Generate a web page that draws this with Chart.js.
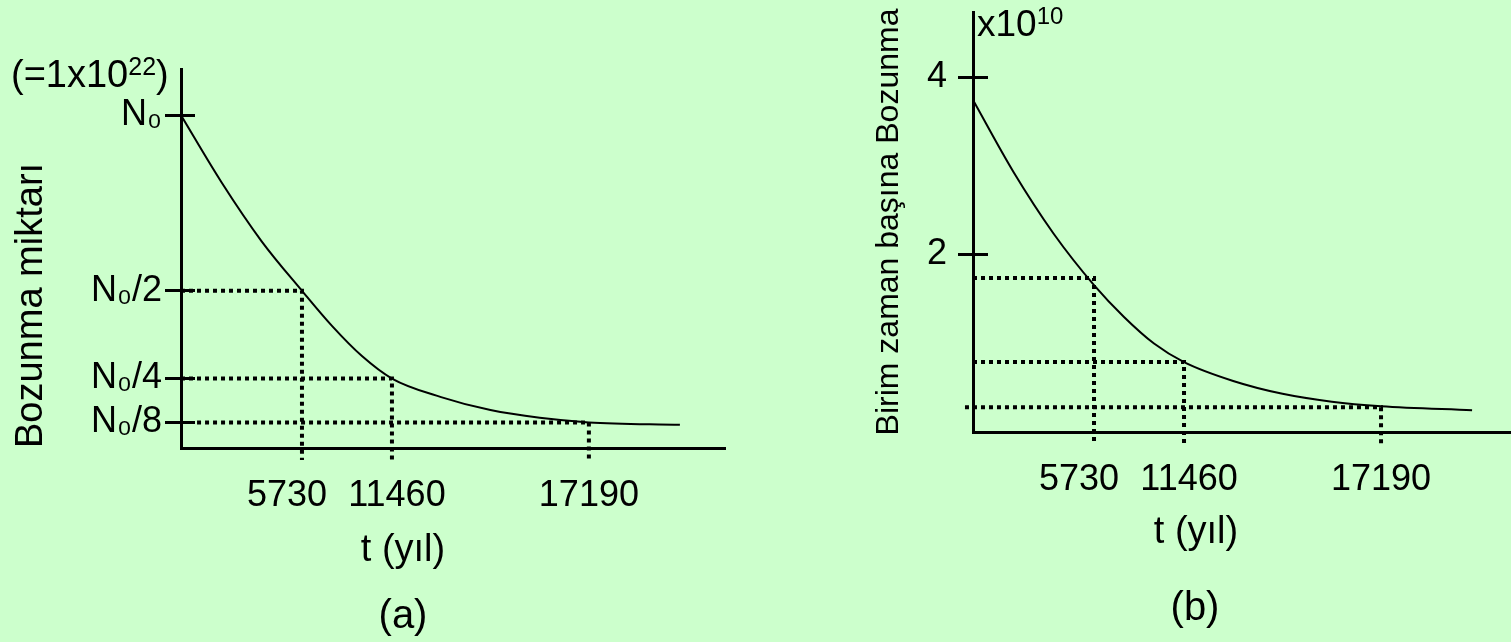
<!DOCTYPE html>
<html>
<head>
<meta charset="utf-8">
<script src="https://cdn.jsdelivr.net/npm/chart.js@4.4.0/dist/chart.umd.min.js"></script>
<style>
  html, body { margin: 0; padding: 0; background: #ccffcc; overflow: hidden; }
  #wrap { position: relative; width: 1511px; height: 642px; }
  canvas { position: absolute; top: 0; }
  #chartA { left: 0; }
  #chartB { left: 800px; }
</style>
</head>
<body>
<div id="wrap">
  <canvas id="chartA" width="800" height="642"></canvas>
  <canvas id="chartB" width="711" height="642"></canvas>
</div>
<script>
// half-lives marked on the time axis (years)
const halfLives = [5730, 11460, 17190];

// (a) amount left, in units of N0
const timeA = [0, 1910, 3820, 5730, 7640, 9550, 11460, 12890, 14325, 15760, 17190, 19838];
const amountA = [1.0, 0.810, 0.641, 0.5, 0.400, 0.314, 0.25, 0.197, 0.160, 0.138, 0.125, 0.118];
const levelsA = [0.5, 0.25, 0.125];
const guideStartA = [0, 0, 760];
const tickValuesA = [1, 0.5, 0.25, 0.125];
const tickLabelsA = ['N₀', 'N₀/2', 'N₀/4', 'N₀/8'];

// (b) decays per unit time, x10^10
const timeB = [0, 1910, 3820, 5730, 7640, 9550, 11460, 12890, 14325, 15760, 17190, 19838];
const rateB = [3.74, 2.93, 2.23, 1.65, 1.29, 0.99, 0.78, 0.567, 0.422, 0.333, 0.282, 0.237];
const levelsB = [1.73, 0.78, 0.27];
const guideStartB = [0, 0, -380];
const tickValuesB = [2, 4];

Chart.defaults.font.family = "'Liberation Sans', Arial, sans-serif";
Chart.defaults.color = '#000';

// linear axis whose segments between stops get their own width
// (the drawing is a sketch, the half-life marks are not evenly spaced)
class PiecewiseScale extends Chart.LinearScale {
  static id = 'piecewise';
  static defaults = {};

  _place(v) {
    const stops = this.options.stops, widths = this.options.widths;
    let acc = 0;
    for (let i = 0; i < widths.length; i++) {
      const a = stops[i], b = stops[i + 1];
      if (v <= b || i === widths.length - 1) return acc + (v - a) * widths[i] / (b - a);
      acc += widths[i];
    }
  }
  getPixelForValue(value) {
    if (value === null || isNaN(value)) return NaN;
    const lo = this._place(this.min), hi = this._place(this.max);
    return this.getPixelForDecimal((this._place(value) - lo) / (hi - lo));
  }
  getValueForPixel(pixel) {
    const stops = this.options.stops, widths = this.options.widths;
    const lo = this._place(this.min), hi = this._place(this.max);
    const target = lo + this.getDecimalForPixel(pixel) * (hi - lo);
    let acc = 0;
    for (let i = 0; i < widths.length; i++) {
      if (target <= acc + widths[i] || i === widths.length - 1) {
        return stops[i] + (target - acc) * (stops[i + 1] - stops[i]) / widths[i];
      }
      acc += widths[i];
    }
  }
}
Chart.register(PiecewiseScale);

// inner half of the y tick marks, the exponent notes and the captions
function figureText(cfg) {
  return {
    id: 'figureText',
    afterDraw(chart) {
      const { ctx, chartArea } = chart;
      const family = Chart.defaults.font.family;
      const y = chart.scales.y;
      ctx.save();
      ctx.strokeStyle = '#000';
      ctx.lineWidth = 3;
      y.ticks.forEach(t => {
        const py = Math.round(y.getPixelForValue(t.value) - 1.5) + 1.5;
        ctx.beginPath();
        ctx.moveTo(chartArea.left, py);
        ctx.lineTo(chartArea.left + cfg.tickIn, py);
        ctx.stroke();
      });

      ctx.fillStyle = '#000';
      ctx.textAlign = 'left';
      ctx.textBaseline = 'alphabetic';
      cfg.notes.forEach(n => {
        ctx.font = n.size + 'px ' + family;
        ctx.fillText(n.text, n.x, n.y);
        let x = n.x + ctx.measureText(n.text).width;
        ctx.font = n.supSize + 'px ' + family;
        ctx.fillText(n.sup, x, n.y - n.rise);
        x += ctx.measureText(n.sup).width;
        if (n.tail) {
          ctx.font = n.size + 'px ' + family;
          ctx.fillText(n.tail, x, n.y);
        }
      });

      ctx.textAlign = 'center';
      ctx.textBaseline = 'middle';
      cfg.captions.forEach(c => {
        ctx.font = c.size + 'px ' + family;
        ctx.fillText(c.text, c.x, c.y);
      });
      ctx.restore();
    }
  };
}

// labels under the half-life marks sit a little off their marks in the sketch:
// negative = pad spaces after the number (moves it left), positive = before it
const labelNudge = [-3, 1, 0];
function halfLifeLabel(v, i) {
  const n = labelNudge[i];
  return n < 0 ? v + ' '.repeat(-n) : ' '.repeat(n) + v;
}

function drawFigure(id, s) {
  const curve = {
    data: s.time.map((t, i) => ({ x: t, y: s.values[i] })),
    borderColor: '#000',
    borderWidth: 2,
    pointRadius: 0,
    cubicInterpolationMode: 'monotone'
  };
  // dotted guide: level line to the curve, then down past the time axis
  const guides = s.levels.map((lv, i) => ({
    data: [{ x: s.guideStart[i], y: lv }, { x: halfLives[i], y: lv }, { x: halfLives[i], y: s.drop }],
    borderColor: '#000',
    borderWidth: 4,
    borderDash: [4, 4],
    borderJoinStyle: 'miter',
    pointRadius: 0,
    tension: 0,
    clip: false
  }));

  new Chart(document.getElementById(id), {
    type: 'line',
    data: { datasets: [curve, ...guides] },
    options: {
      responsive: false,
      animation: false,
      events: [],
      layout: { padding: s.padding },
      plugins: { legend: { display: false }, tooltip: { enabled: false } },
      scales: {
        x: {
          type: 'piecewise',
          stops: [0, ...halfLives],
          widths: [121, 90, 197],
          min: 0,
          max: s.xMax,
          grid: { display: false, drawTicks: false },
          border: { display: true, color: '#000', width: 3 },
          ticks: {
            autoSkip: false, maxRotation: 0, padding: 26,
            font: { size: 36 },
            callback: halfLifeLabel
          },
          afterBuildTicks: sc => { sc.ticks = halfLives.map(v => ({ value: v })); },
          afterFit: sc => { sc.height = s.xHeight; sc.paddingLeft = 0; sc.paddingRight = 0; }
        },
        y: {
          type: 'linear',
          min: s.yMin,
          max: s.yMax,
          grid: {
            display: true, drawOnChartArea: false, drawTicks: true,
            tickLength: s.tickOut, tickWidth: 3, tickColor: '#000'
          },
          border: { display: true, color: '#000', width: 3 },
          ticks: {
            padding: s.tickPad,
            font: { size: s.tickSize },
            callback: s.tickLabel
          },
          title: {
            display: true,
            text: s.yTitle,
            align: s.yTitleAlign,
            font: { size: s.yTitleSize },
            padding: { top: s.yTitlePad, bottom: 0 }
          },
          afterBuildTicks: sc => { sc.ticks = s.tickValues.map(v => ({ value: v })); },
          afterFit: sc => { sc.width = s.yWidth; sc.paddingTop = 0; sc.paddingBottom = 0; }
        }
      }
    },
    plugins: [figureText(s.text)]
  });
}

drawFigure('chartA', {
  time: timeA, values: amountA, levels: levelsA, guideStart: guideStartA,
  tickValues: tickValuesA,
  tickLabel: v => tickLabelsA[tickValuesA.indexOf(v)],
  yTitle: 'Bozunma miktarı', yTitleAlign: 'start', yTitleSize: 38, yTitlePad: 9,
  drop: 0.018, xMax: 21150, yMin: 0.052, yMax: 1.132,
  padding: { left: 0, top: 69, right: 75, bottom: 0 },
  yWidth: 181, xHeight: 194, tickOut: 16, tickPad: 3, tickSize: 36,
  text: {
    tickIn: 14,
    notes: [{ x: 11, y: 87, text: '(=1x10', sup: '22', tail: ')', size: 38, supSize: 25, rise: 12 }],
    captions: [
      { text: 't (yıl)', x: 403, y: 551, size: 38 },
      { text: '(a)', x: 403, y: 617, size: 40 }
    ]
  }
});

drawFigure('chartB', {
  time: timeB, values: rateB, levels: levelsB, guideStart: guideStartB,
  tickValues: tickValuesB,
  tickLabel: v => String(v),
  yTitle: 'Birim zaman başına Bozunma', yTitleAlign: 'center', yTitleSize: 32, yTitlePad: 70,
  drop: -0.158, xMax: 20970, yMin: -0.01, yMax: 4.735,
  padding: { left: 0, top: 12, right: 0, bottom: 0 },
  yWidth: 173, xHeight: 210, tickOut: 15, tickPad: 11, tickSize: 36,
  text: {
    tickIn: 15,
    notes: [{ x: 177, y: 36, text: 'x10', sup: '10', size: 37, supSize: 24, rise: 12 }],
    captions: [
      { text: 't (yıl)', x: 396, y: 533, size: 38 },
      { text: '(b)', x: 395, y: 609, size: 40 }
    ]
  }
});
</script>
</body>
</html>
